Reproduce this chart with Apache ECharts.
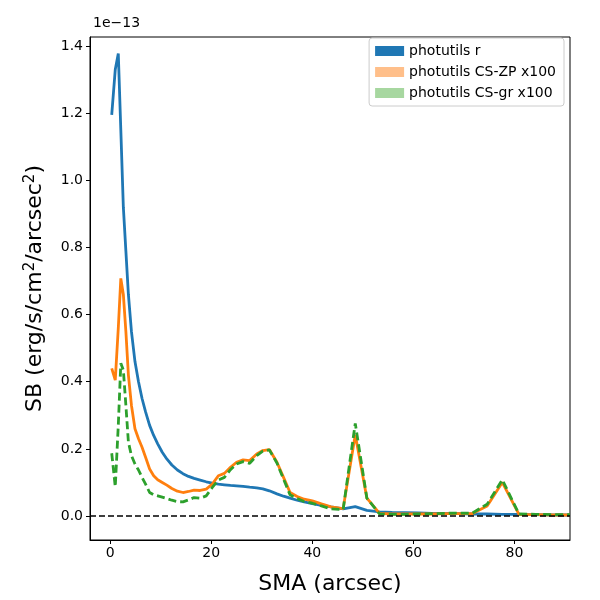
<!DOCTYPE html>
<html>
<head>
<meta charset="utf-8">
<script src="https://cdn.jsdelivr.net/npm/echarts@6/dist/echarts.min.js"></script>
<style>
  html, body { margin: 0; padding: 0; background: #fff; }
  #main { width: 600px; height: 600px; }
</style>
</head>
<body>
<div id="main"></div>
<script>
var myChart = echarts.init(document.getElementById('main'));

// SMA in arcsec
var sma = [0.3, 1.0, 1.6, 2.1, 2.6, 3.1, 3.6, 4.2, 4.9, 5.6, 6.3, 7.0, 7.8, 8.6, 9.4, 10.3, 11.2, 12.2, 13.3, 14.4,
    15.5, 16.6, 17.8, 19.0, 20.2, 21.4, 22.6, 23.8, 25.0, 26.3, 27.6, 29.0, 30.2, 31.5, 33.0, 34.3, 35.6, 37.0, 38.4,
    40.0, 41.8, 43.7, 46.1, 48.5, 50.8, 53.3, 55.8, 58.4, 61.0, 63.7, 66.4, 69.0, 71.6, 74.6, 77.6, 80.9, 84.2, 87.6, 91.0];
// SB in units of 1e-13
var sbR = [1.195, 1.33, 1.378, 1.15, 0.92, 0.79, 0.66, 0.55, 0.46, 0.40, 0.35, 0.31, 0.27, 0.24, 0.215, 0.19, 0.17, 0.152, 0.137, 0.126,
    0.118, 0.112, 0.107, 0.102, 0.098, 0.095, 0.093, 0.091, 0.090, 0.088, 0.086, 0.084, 0.081, 0.075, 0.066, 0.059, 0.053, 0.047, 0.042,
    0.037, 0.032, 0.027, 0.021, 0.028, 0.017, 0.012, 0.011, 0.010, 0.009, 0.008, 0.008, 0.007, 0.006, 0.006, 0.005, 0.005, 0.004, 0.003, 0.003];
var sbZP = [0.44, 0.405, 0.56, 0.708, 0.66, 0.55, 0.42, 0.33, 0.26, 0.23, 0.205, 0.175, 0.14, 0.12, 0.108, 0.10, 0.092, 0.082, 0.074, 0.070,
    0.073, 0.077, 0.076, 0.080, 0.095, 0.120, 0.127, 0.145, 0.160, 0.167, 0.165, 0.185, 0.195, 0.198, 0.160, 0.115, 0.070, 0.058, 0.050,
    0.045, 0.036, 0.027, 0.022, 0.242, 0.053, 0.008, 0.006, 0.006, 0.006, 0.006, 0.007, 0.007, 0.007, 0.030, 0.100, 0.005, 0.004, 0.003, 0.003];
var sbGR = [0.187, 0.087, 0.27, 0.455, 0.435, 0.33, 0.22, 0.18, 0.155, 0.137, 0.115, 0.095, 0.070, 0.063, 0.060, 0.056, 0.052, 0.047, 0.043, 0.042,
    0.048, 0.055, 0.053, 0.060, 0.085, 0.107, 0.115, 0.138, 0.155, 0.162, 0.157, 0.180, 0.193, 0.197, 0.158, 0.110, 0.063, 0.052, 0.043,
    0.038, 0.030, 0.021, 0.019, 0.276, 0.053, 0.006, 0.005, 0.005, 0.006, 0.007, 0.008, 0.009, 0.008, 0.035, 0.108, 0.006, 0.005, 0.004, 0.004];

var xTicks = [0, 20, 40, 60, 80];
var yTicks = [0.0, 0.2, 0.4, 0.6, 0.8, 1.0, 1.2, 1.4];
var names = ['photutils r', 'photutils CS-ZP x100', 'photutils CS-gr x100'];

function pairs(ys) {
    return sma.map((x, i) => [x, ys[i]]);
}

var font = 'DejaVu Sans';

var option = {
    animation: false,
    textStyle: { fontFamily: font },
    grid: { left: 90, right: 30, top: 37, bottom: 60, show: true, borderColor: '#000', borderWidth: 1 },
    title: {
        text: '1e\u221213',
        left: 88, top: 11,
        textStyle: { fontFamily: font, fontSize: 14, fontWeight: 'normal', color: '#000' }
    },
    legend: {
        right: 36, top: 38,
        orient: 'vertical',
        itemWidth: 29, itemHeight: 10, itemGap: 7,
        padding: [6, 8, 6, 6],
        borderColor: '#ccc', borderWidth: 1, borderRadius: 3,
        backgroundColor: '#fff',
        textStyle: { fontFamily: font, fontSize: 14, color: '#000' },
        data: [
            { name: names[0], icon: 'rect', itemStyle: { color: '#1f77b4' } },
            { name: names[1], icon: 'rect', itemStyle: { color: '#ffbf8a' } },
            { name: names[2], icon: 'rect', itemStyle: { color: '#a7d7a0' } }
        ]
    },
    xAxis: {
        type: 'value', min: -4, max: 91,
        name: 'SMA (arcsec)', nameLocation: 'middle', nameGap: 33,
        nameTextStyle: { fontFamily: font, fontSize: 22, color: '#000' },
        splitLine: { show: false },
        axisLine: { show: true, onZero: false, lineStyle: { color: '#000' } },
        axisTick: { show: true, length: 4, lineStyle: { color: '#000' }, customValues: xTicks },
        axisLabel: { fontFamily: font, fontSize: 14, color: '#000', margin: 6, customValues: xTicks }
    },
    yAxis: {
        type: 'value', min: -0.0715, max: 1.427,
        name: '{a|SB (erg/s/cm}{s|2}{a|/arcsec}{s|2}{a|)}',
        nameLocation: 'middle', nameRotate: 90, nameGap: 42,
        nameTextStyle: {
            rich: {
                a: { fontFamily: font, fontSize: 22, color: '#000' },
                s: { fontFamily: font, fontSize: 15, color: '#000', padding: [0, 0, 10, 0] }
            }
        },
        splitLine: { show: false },
        axisLine: { show: true, onZero: false, lineStyle: { color: '#000' } },
        axisTick: { show: true, length: 4, lineStyle: { color: '#000' }, customValues: yTicks },
        axisLabel: {
            fontFamily: font, fontSize: 14, color: '#000', margin: 7, customValues: yTicks,
            formatter: v => v.toFixed(1)
        }
    },
    series: [
        {
            name: names[0], type: 'line', data: pairs(sbR),
            showSymbol: false, smooth: false,
            color: '#1f77b4',
            lineStyle: { width: 2.8, color: '#1f77b4' },
            markLine: {
                silent: true, symbol: 'none', label: { show: false },
                lineStyle: { color: '#000', type: [6, 3], width: 1.6 },
                data: [{ yAxis: 0 }]
            },
            z: 2
        },
        {
            name: names[1], type: 'line', data: pairs(sbZP),
            showSymbol: false,
            color: '#ff7f0e',
            lineStyle: { width: 2.8, color: '#ff7f0e' },
            z: 3
        },
        {
            name: names[2], type: 'line', data: pairs(sbGR),
            showSymbol: false,
            color: '#2ca02c',
            lineStyle: { width: 2.8, color: '#2ca02c', type: [8, 4] },
            z: 4
        }
    ]
};

myChart.setOption(option);
</script>
</body>
</html>
